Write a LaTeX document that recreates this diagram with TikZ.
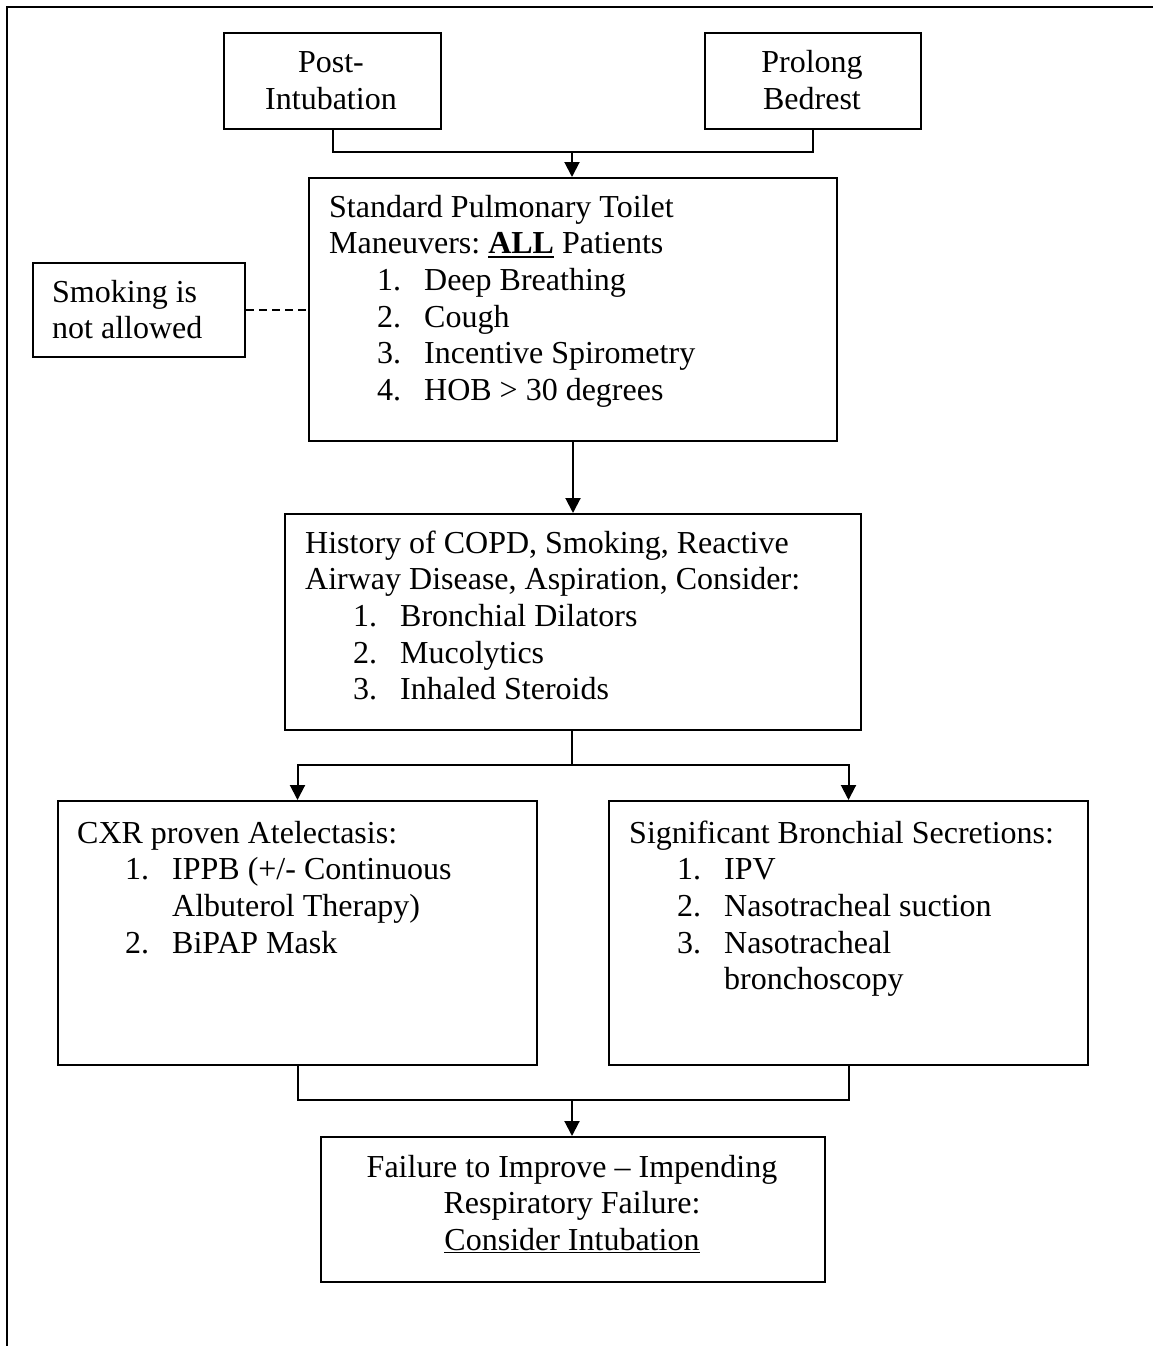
\documentclass[tikz,border=0pt]{standalone}
\usepackage{fontspec}
\setmainfont{Liberation Serif}
\usetikzlibrary{arrows.meta}
\frenchspacing
\newcommand{\lsize}{\fontsize{32}{36.7}\selectfont}
\newcommand{\itm}[2]{\hspace*{48pt}\makebox[47pt][l]{#1}#2}
\newcommand{\itc}[1]{\hspace*{95pt}#1}
\newcommand{\lefttext}[1]{\begin{minipage}[t]{700pt}\raggedright #1\end{minipage}}
\newcommand{\centtext}[1]{\begin{minipage}[t]{600pt}\centering #1\end{minipage}}
\newcommand{\ulthick}[1]{\setbox0\hbox{#1}\rlap{\rule[-4.5pt]{\wd0}{2.6pt}}\box0\relax}
\begin{document}
\begin{tikzpicture}[x=1pt,y=-1pt,
  box/.style={draw,line width=2pt,inner sep=0pt,anchor=north west},
  txt/.style={inner sep=0pt,font=\lsize},
  link/.style={line width=2pt},
  arr/.style={line width=2pt,-{Triangle[length=15pt,width=15pt]}}]
\useasboundingbox (0,0) rectangle (1153,1346);
% frame
\draw[line width=2pt] (1153,7) -- (7,7) -- (7,1346);
% boxes
\node[box,minimum width=217pt,minimum height=96pt] (post) at (223,32) {};
\node[box,minimum width=216pt,minimum height=96pt] (prolong) at (704,32) {};
\node[box,minimum width=528pt,minimum height=263pt] (std) at (308,177) {};
\node[box,minimum width=212pt,minimum height=94pt] (smoke) at (32,262) {};
\node[box,minimum width=576pt,minimum height=216pt] (hist) at (284,513) {};
\node[box,minimum width=479pt,minimum height=264pt] (cxr) at (57,800) {};
\node[box,minimum width=479pt,minimum height=264pt] (sec) at (608,800) {};
\node[box,minimum width=504pt,minimum height=145pt] (fail) at (320,1136) {};
% texts
\node[txt,anchor=base] (postT) at (331,73) {\centtext{Post-\\Intubation}};
\node[txt,anchor=base] (prolongT) at (812,73) {\centtext{Prolong\\Bedrest}};
\node[txt,anchor=base west] (stdT) at (329,217) {\lefttext{Standard Pulmonary Toilet\\
Maneuvers: \ulthick{\textbf{ALL}} Patients\\
\itm{1.}{Deep Breathing}\\
\itm{2.}{Cough}\\
\itm{3.}{Incentive Spirometry}\\
\itm{4.}{HOB > 30 degrees}}};
\node[txt,anchor=base west] (smokeT) at (52,302) {\lefttext{Smoking is\\not allowed}};
\node[txt,anchor=base west] (histT) at (305,553) {\lefttext{History of COPD, Smoking, Reactive\\
Airway Disease, Aspiration, Consider:\\
\itm{1.}{Bronchial Dilators}\\
\itm{2.}{Mucolytics}\\
\itm{3.}{Inhaled Steroids}}};
\node[txt,anchor=base west] (cxrT) at (77,843) {\lefttext{CXR proven Atelectasis:\\
\itm{1.}{IPPB (+/- Continuous}\\
\itc{Albuterol Therapy)}\\
\itm{2.}{BiPAP Mask}}};
\node[txt,anchor=base west] (secT) at (629,843) {\lefttext{Significant Bronchial Secretions:\\
\itm{1.}{IPV}\\
\itm{2.}{Nasotracheal suction}\\
\itm{3.}{Nasotracheal}\\
\itc{bronchoscopy}}};
\node[txt,anchor=base] (failT) at (572,1177) {\centtext{Failure to Improve – Impending\\
Respiratory Failure:\\
\underline{Consider Intubation}}};
% connectors
\coordinate (j1) at (572,152);
\coordinate (j2) at (572,765);
\coordinate (j3) at (572,1100);
\draw[link] (post.south) |- (j1) -| (prolong.south);
\draw[arr] (j1) -- (j1 |- std.north);
\draw[link,dash pattern=on 8pt off 5pt] (smoke.east) -- (smoke.east -| std.west);
\draw[arr] (std.south) -- (std.south |- hist.north);
\draw[link] (j2 |- hist.south) -- (j2);
\draw[arr] (j2) -| (cxr.north);
\draw[arr] (j2) -| (sec.north);
\draw[link] (cxr.south) |- (j3) -| (sec.south);
\draw[arr] (j3) -- (j3 |- fail.north);
\end{tikzpicture}
\end{document}
